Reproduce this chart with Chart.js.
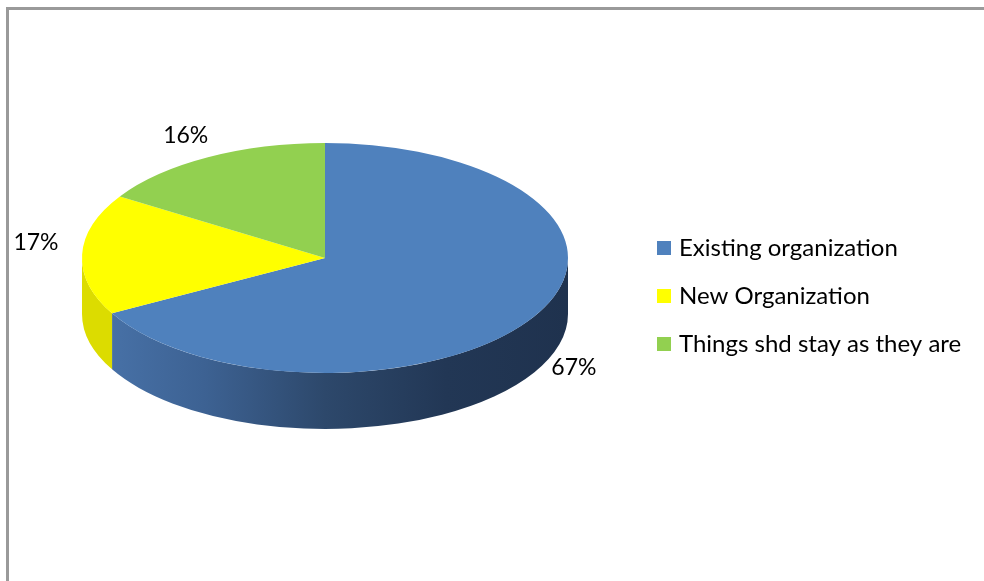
<!DOCTYPE html>
<html>
<head>
<meta charset="utf-8">
<script src="https://cdn.jsdelivr.net/npm/chart.js@4.4.1/dist/chart.umd.min.js"></script>
<style>
  html, body { margin: 0; padding: 0; background: #fff; overflow: hidden; }
  #frame {
    position: absolute; left: 6px; top: 7px; width: 1000px; height: 600px;
    border-left: 3px solid #9a9a9a; border-top: 3px solid #9a9a9a;
  }
  #chart { position: absolute; left: 0; top: 0; }
</style>
</head>
<body>
<div id="frame"></div>
<canvas id="chart" width="984" height="581"></canvas>
<script>
const labels = ["Existing organization", "New Organization", "Things shd stay as they are"];
const shares = [67, 17, 16];
const faceColors = ["#4f81bd", "#ffff00", "#92d050"];

const LEGEND_FONT = "24px Lato, Calibri, sans-serif";
const LABEL_FONT = "23px Lato, Calibri, sans-serif";
const TILT = 0.473;  // how much the disc is squashed vertically
const DEPTH = 56;    // thickness of the disc
const APEX_LIFT = 11; // perspective: slice apex sits a little above the ellipse centre

const ctx = document.getElementById("chart");

function sideFill(c, i, cx, r) {
  if (i === 1) return "#dcdc00";
  if (i === 2) return "#74a83e";
  const g = c.createLinearGradient(cx - r, 0, cx + r, 0);
  g.addColorStop(0, "#4a75ac");
  g.addColorStop(0.25, "#3d6293");
  g.addColorStop(0.5, "#2d486b");
  g.addColorStop(0.75, "#223755");
  g.addColorStop(1, "#1f324e");
  return g;
}

const pie3d = {
  id: "pie3d",
  beforeDatasetsDraw(chart) {
    const c = chart.ctx;
    const arcs = chart.getDatasetMeta(0).data;
    // front wall of the disc, only the 0..PI part faces the viewer
    arcs.forEach((arc, i) => {
      const { x, y, startAngle, endAngle, outerRadius } = arc;
      const a = Math.max(startAngle, 0);
      const b = Math.min(endAngle, Math.PI);
      if (b <= a) return;
      const ry = outerRadius * TILT;
      c.save();
      c.beginPath();
      c.ellipse(x, y, outerRadius, ry, 0, a, b);
      c.ellipse(x, y + DEPTH, outerRadius, ry, 0, b, a, true);
      c.closePath();
      c.fillStyle = sideFill(c, i, x, outerRadius);
      c.fill();
      c.restore();
    });
    // squash the top faces into an ellipse
    const { x, y } = arcs[0];
    c.save();
    c.translate(x, y);
    c.scale(1, TILT);
    c.translate(-x, -y);
  },
  afterDatasetsDraw(chart) {
    const c = chart.ctx;
    c.restore();
    const arcs = chart.getDatasetMeta(0).data;
    c.save();
    c.font = LABEL_FONT;
    c.fillStyle = "#000";
    c.textAlign = "center";
    c.textBaseline = "middle";
    arcs.forEach((arc, i) => {
      const mid = (arc.startAngle + arc.endAngle) / 2;
      const rx = arc.outerRadius * 1.19;
      const ry = arc.outerRadius * TILT * 1.11;
      const lx = arc.x + Math.cos(mid) * rx;
      let ly = arc.y - APEX_LIFT + Math.sin(mid) * ry;
      if (Math.sin(mid) > 0) ly += DEPTH;
      c.fillText(shares[i] + "%", lx, ly);
    });
    c.restore();
  },
  afterDraw(chart) {
    // legend on the right
    const c = chart.ctx;
    c.save();
    c.font = LEGEND_FONT;
    c.textBaseline = "middle";
    labels.forEach((name, i) => {
      const yy = 248 + i * 48;
      c.fillStyle = faceColors[i];
      c.fillRect(657, yy - 7, 14, 14);
      c.fillStyle = "#000";
      c.fillText(name, 679, yy);
    });
    c.restore();
  }
};

new Chart(ctx, {
  type: "pie",
  data: {
    labels: labels,
    datasets: [
      {
        data: shares,
        backgroundColor: faceColors,
        borderWidth: 0,
      },
    ],
  },
  options: {
    responsive: false,
    animation: false,
    events: [],
    layout: {
      padding: { left: 82, right: 416, top: 15, bottom: 80 },
    },
    plugins: {
      legend: { display: false },
      tooltip: { enabled: false },
    },
  },
  plugins: [pie3d],
});
</script>
</body>
</html>
